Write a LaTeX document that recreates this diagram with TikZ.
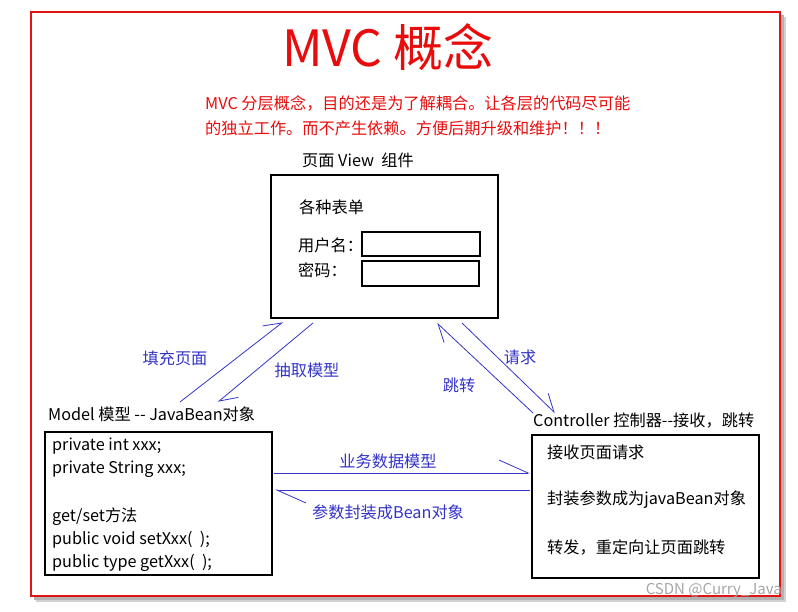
\documentclass[tikz,border=0pt]{standalone}
\usepackage{fontspec}
\setmainfont{Noto Sans CJK SC}
\usetikzlibrary{arrows.meta}
\definecolor{tred}{RGB}{232,12,12}
\definecolor{lblue}{RGB}{52,52,200}
\definecolor{frred}{RGB}{225,20,20}
\tikzset{
  txt/.style={inner sep=0pt, anchor=west, font=\fontsize{16.2}{19}\selectfont},
  lbl/.style={inner sep=0pt, text=lblue, font=\fontsize{16.2}{19}\selectfont},
  box/.style={draw=black, line width=1.1pt, inner sep=0pt},
  harp/.style={draw=lblue, line width=0.8pt, -{Straight Barb[left,length=17pt,angle'=58]}},
  harpl/.style={draw=lblue, line width=0.8pt, -{Straight Barb[left,length=29pt,angle'=48]}}
}
\begin{document}
\begin{tikzpicture}[x=1pt,y=-1pt]
\useasboundingbox (0,0) rectangle (798,611);
\fill[white] (0,0) rectangle (798,611);
% frame with shadow
\fill[gray!35] (36,17) rectangle (786,602);
\fill[gray!60] (34,15) rectangle (784,600);
\filldraw[fill=white, draw=frred, line width=2.6pt] (31,12) rectangle (780,596);

% title and subtitle
\node[inner sep=0pt, text=tred, font=\fontsize{50}{54}\selectfont] (title) at (388,47) {MVC 概念};
\node[txt, text=tred] (sub1) at (205,103) {MVC 分层概念，目的还是为了解耦合。让各层的代码尽可能};
\node[txt, text=tred] (sub2) at (205,128) {的独立工作。而不产生依赖。方便后期升级和维护！！！};

% view
\node[txt] (viewlbl) at (302,160) {页面 View\ \ 组件};
\node[box, minimum width=227pt, minimum height=143pt] (view) at (384.5,246.5) {};
\node[txt] (forms) at (299,207) {各种表单};
\node[txt] (user) at (298,245) {用户名：};
\node[txt] (pwd) at (298,270) {密码：};
\node[box, minimum width=118pt, minimum height=24pt] (userin) at (421,244) {};
\node[box, minimum width=117pt, minimum height=25pt] (pwdin) at (420.5,273.5) {};

% model
\node[txt] (modellbl) at (48,414) {Model 模型 -{}- JavaBean对象};
\node[box, minimum width=227pt, minimum height=143pt] (model) at (158.5,503.5) {};
\node[txt] (m1) at (52,446) {private int xxx;};
\node[txt] (m2) at (52,469) {private String xxx;};
\node[txt] (m3) at (52,517) {get/set方法};
\node[txt] (m4) at (52,540) {public void setXxx(\ \ );};
\node[txt] (m5) at (52,563) {public type getXxx(\ \ );};

% controller
\node[txt] (ctrllbl) at (533,421) {Controller 控制器-{}-接收，跳转};
\node[box, minimum width=227pt, minimum height=143pt] (ctrl) at (645.5,506.5) {};
\node[txt] (c1) at (547,452) {接收页面请求};
\node[txt] (c2) at (547,500) {封装参数成为javaBean对象};
\node[txt] (c3) at (547,547) {转发，重定向让页面跳转};

% connector end points
\coordinate (fillS) at (180,402);
\coordinate (fillE) at (283,322);
\coordinate (extS) at (313,323);
\coordinate (extE) at (218,402);
\coordinate (jumpS) at (533,413);
\coordinate (jumpE) at (437,323);
\coordinate (reqS) at (462,323);
\coordinate (reqE) at (555,413);
\coordinate (bizS) at (274,473);
\coordinate (bizE) at (530,473);
\coordinate (parS) at (530,490);
\coordinate (parE) at (275,490);

\draw[harp] (fillS) -- (fillE);
\draw[harp] (extS) -- (extE);
\draw[harp] (jumpS) -- (jumpE);
\draw[harp] (reqS) -- (reqE);
\draw[harpl] (bizS) -- (bizE);
\draw[harpl] (parS) -- (parE);

\node[lbl] (lfill) at (175,358) {填充页面};
\node[lbl] (lext) at (307,370) {抽取模型};
\node[lbl] (lreq) at (520,357) {请求};
\node[lbl] (ljump) at (459,385) {跳转};
\node[lbl] (lbiz) at (388,461) {业务数据模型};
\node[lbl] (lpar) at (388,512) {参数封装成Bean对象};

% watermark
\node[inner sep=0pt, anchor=east, text=gray!70, font=\fontsize{15}{18}\selectfont] (wm) at (782,591) {CSDN @Curry\_Java};
\end{tikzpicture}
\end{document}
